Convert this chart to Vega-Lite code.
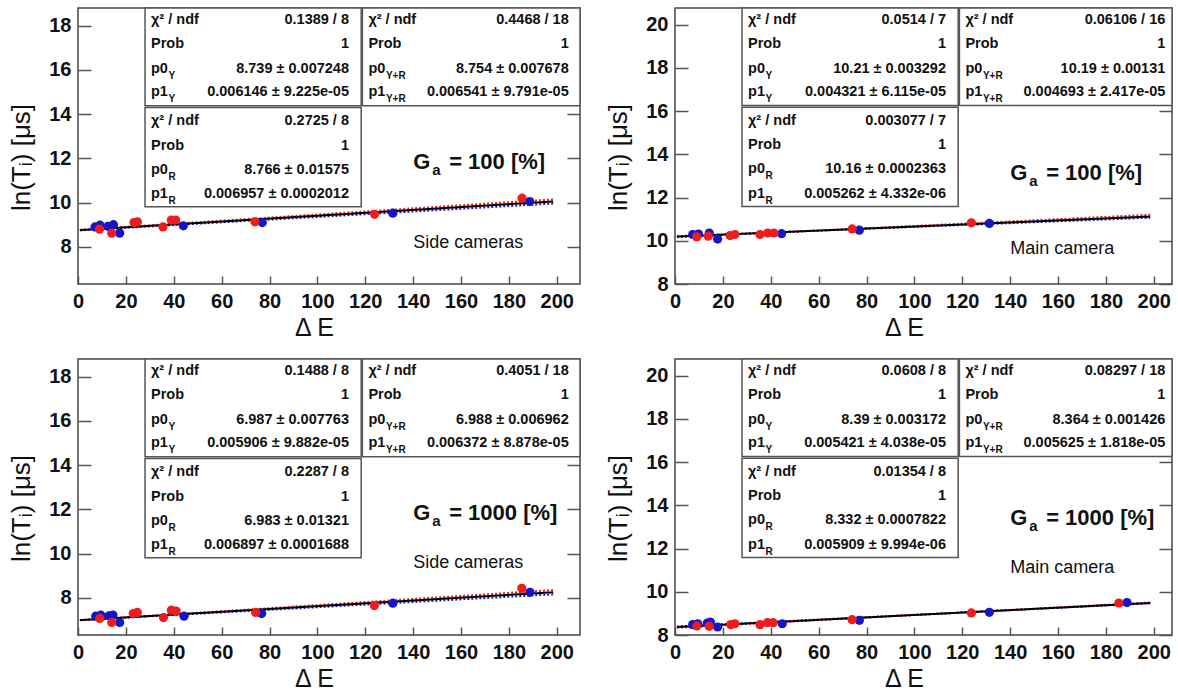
{
"$schema": "https://vega.github.io/schema/vega-lite/v6.json",
"background": "white",
"padding": {"left": 8, "top": 6, "right": 0, "bottom": 0},
"autosize": {"type": "pad"},
"spacing": 16,
"datasets": {
"TL_pts": [
{"cam":"Y","E":7.1,"v":8.90},{"cam":"Y","E":9.2,"v":8.98},{"cam":"Y","E":12.5,"v":8.93},{"cam":"Y","E":14.8,"v":9.00},{"cam":"Y","E":17.4,"v":8.62},{"cam":"Y","E":44.0,"v":8.95},{"cam":"Y","E":77.0,"v":9.10},{"cam":"Y","E":131.5,"v":9.52},{"cam":"Y","E":188.7,"v":10.05},
{"cam":"R","E":9.0,"v":8.80},{"cam":"R","E":14.1,"v":8.62},{"cam":"R","E":23.4,"v":9.10},{"cam":"R","E":24.8,"v":9.13},{"cam":"R","E":35.5,"v":8.90},{"cam":"R","E":39.0,"v":9.21},{"cam":"R","E":40.8,"v":9.21},{"cam":"R","E":73.9,"v":9.13},{"cam":"R","E":123.9,"v":9.47},{"cam":"R","E":185.5,"v":10.20}],
"TR_pts": [
{"cam":"Y","E":7.4,"v":10.29},{"cam":"Y","E":9.8,"v":10.31},{"cam":"Y","E":14.3,"v":10.36},{"cam":"Y","E":17.8,"v":10.08},{"cam":"Y","E":44.5,"v":10.33},{"cam":"Y","E":77.0,"v":10.49},{"cam":"Y","E":131.3,"v":10.80},
{"cam":"R","E":9.1,"v":10.18},{"cam":"R","E":13.9,"v":10.21},{"cam":"R","E":23.0,"v":10.24},{"cam":"R","E":25.0,"v":10.29},{"cam":"R","E":35.5,"v":10.29},{"cam":"R","E":38.7,"v":10.36},{"cam":"R","E":41.3,"v":10.36},{"cam":"R","E":74.0,"v":10.55},{"cam":"R","E":123.8,"v":10.83}],
"BL_pts": [
{"cam":"Y","E":7.4,"v":7.17},{"cam":"Y","E":9.5,"v":7.22},{"cam":"Y","E":13.0,"v":7.19},{"cam":"Y","E":14.6,"v":7.22},{"cam":"Y","E":17.4,"v":6.89},{"cam":"Y","E":44.3,"v":7.17},{"cam":"Y","E":76.7,"v":7.29},{"cam":"Y","E":131.5,"v":7.76},{"cam":"Y","E":188.8,"v":8.25},
{"cam":"R","E":9.1,"v":7.07},{"cam":"R","E":14.1,"v":6.89},{"cam":"R","E":23.1,"v":7.29},{"cam":"R","E":24.8,"v":7.34},{"cam":"R","E":35.7,"v":7.11},{"cam":"R","E":39.0,"v":7.44},{"cam":"R","E":41.0,"v":7.40},{"cam":"R","E":74.2,"v":7.34},{"cam":"R","E":123.8,"v":7.65},{"cam":"R","E":185.4,"v":8.43}],
"BR_pts": [
{"cam":"Y","E":7.4,"v":8.48},{"cam":"Y","E":9.5,"v":8.52},{"cam":"Y","E":13.5,"v":8.55},{"cam":"Y","E":14.8,"v":8.60},{"cam":"Y","E":17.8,"v":8.37},{"cam":"Y","E":44.8,"v":8.52},{"cam":"Y","E":77.0,"v":8.68},{"cam":"Y","E":131.3,"v":9.05},{"cam":"Y","E":188.8,"v":9.50},
{"cam":"R","E":9.1,"v":8.42},{"cam":"R","E":14.3,"v":8.40},{"cam":"R","E":23.3,"v":8.48},{"cam":"R","E":25.0,"v":8.52},{"cam":"R","E":35.5,"v":8.48},{"cam":"R","E":38.6,"v":8.57},{"cam":"R","E":41.0,"v":8.57},{"cam":"R","E":74.0,"v":8.71},{"cam":"R","E":123.8,"v":9.02},{"cam":"R","E":185.4,"v":9.48}],
"TL_fits": [
{"fit":"Y","E":0.8,"v":8.744},{"fit":"Y","E":198.5,"v":9.959},
{"fit":"R","E":0.8,"v":8.772},{"fit":"R","E":198.5,"v":10.147},
{"fit":"YR","E":0.8,"v":8.759},{"fit":"YR","E":198.5,"v":10.052}],
"TR_fits": [
{"fit":"Y","E":0.8,"v":10.213},{"fit":"Y","E":198.5,"v":11.068},
{"fit":"R","E":0.8,"v":10.164},{"fit":"R","E":198.5,"v":11.204},
{"fit":"YR","E":0.8,"v":10.194},{"fit":"YR","E":198.5,"v":11.122}],
"BL_fits": [
{"fit":"Y","E":0.8,"v":6.992},{"fit":"Y","E":198.5,"v":8.159},
{"fit":"R","E":0.8,"v":6.988},{"fit":"R","E":198.5,"v":8.352},
{"fit":"YR","E":0.8,"v":6.993},{"fit":"YR","E":198.5,"v":8.253}],
"BR_fits": [
{"fit":"Y","E":0.8,"v":8.394},{"fit":"Y","E":198.5,"v":9.466},
{"fit":"R","E":0.8,"v":8.337},{"fit":"R","E":198.5,"v":9.505},
{"fit":"YR","E":0.8,"v":8.369},{"fit":"YR","E":198.5,"v":9.481}],
"C1_boxes": [
{"E":28,"E2":118.3,"v":14.38,"v2":18.8},{"E":118.8,"E2":209.7,"v":14.38,"v2":18.8},{"E":28,"E2":118.3,"v":9.81,"v2":14.30}],
"C2_boxes": [
{"E":28,"E2":118.3,"v":16.26,"v2":20.77},{"E":118.8,"E2":207.6,"v":16.26,"v2":20.77},{"E":28,"E2":118.3,"v":11.59,"v2":16.18}],
"TL_stats": [
{"E":30.5,"Er":113.2,"v":18.27,"lab":"χ² / ndf","val":"0.1389 / 8","sub":""},
{"E":30.5,"Er":113.2,"v":17.17,"lab":"Prob","val":"1","sub":""},
{"E":30.5,"Er":113.2,"v":16.04,"lab":"p0","val":"8.739 ± 0.007248","sub":"Y"},
{"E":30.5,"Er":113.2,"v":14.98,"lab":"p1","val":"0.006146 ± 9.225e-05","sub":"Y"},
{"E":121.3,"Er":205,"v":18.27,"lab":"χ² / ndf","val":"0.4468 / 18","sub":""},
{"E":121.3,"Er":205,"v":17.17,"lab":"Prob","val":"1","sub":""},
{"E":121.3,"Er":205,"v":16.04,"lab":"p0","val":"8.754 ± 0.007678","sub":"Y+R"},
{"E":121.3,"Er":205,"v":14.98,"lab":"p1","val":"0.006541 ± 9.791e-05","sub":"Y+R"},
{"E":30.5,"Er":113.2,"v":13.70,"lab":"χ² / ndf","val":"0.2725 / 8","sub":""},
{"E":30.5,"Er":113.2,"v":12.57,"lab":"Prob","val":"1","sub":""},
{"E":30.5,"Er":113.2,"v":11.48,"lab":"p0","val":"8.766 ± 0.01575","sub":"R"},
{"E":30.5,"Er":113.2,"v":10.38,"lab":"p1","val":"0.006957 ± 0.0002012","sub":"R"}],
"BL_stats": [
{"E":30.5,"Er":113.2,"v":18.27,"lab":"χ² / ndf","val":"0.1488 / 8","sub":""},
{"E":30.5,"Er":113.2,"v":17.17,"lab":"Prob","val":"1","sub":""},
{"E":30.5,"Er":113.2,"v":16.04,"lab":"p0","val":"6.987 ± 0.007763","sub":"Y"},
{"E":30.5,"Er":113.2,"v":14.98,"lab":"p1","val":"0.005906 ± 9.882e-05","sub":"Y"},
{"E":121.3,"Er":205,"v":18.27,"lab":"χ² / ndf","val":"0.4051 / 18","sub":""},
{"E":121.3,"Er":205,"v":17.17,"lab":"Prob","val":"1","sub":""},
{"E":121.3,"Er":205,"v":16.04,"lab":"p0","val":"6.988 ± 0.006962","sub":"Y+R"},
{"E":121.3,"Er":205,"v":14.98,"lab":"p1","val":"0.006372 ± 8.878e-05","sub":"Y+R"},
{"E":30.5,"Er":113.2,"v":13.70,"lab":"χ² / ndf","val":"0.2287 / 8","sub":""},
{"E":30.5,"Er":113.2,"v":12.57,"lab":"Prob","val":"1","sub":""},
{"E":30.5,"Er":113.2,"v":11.48,"lab":"p0","val":"6.983 ± 0.01321","sub":"R"},
{"E":30.5,"Er":113.2,"v":10.38,"lab":"p1","val":"0.006897 ± 0.0001688","sub":"R"}],
"TR_stats": [
{"E":30.5,"Er":113.2,"v":20.23,"lab":"χ² / ndf","val":"0.0514 / 7","sub":""},
{"E":30.5,"Er":113.2,"v":19.11,"lab":"Prob","val":"1","sub":""},
{"E":30.5,"Er":113.2,"v":17.95,"lab":"p0","val":"10.21 ± 0.003292","sub":"Y"},
{"E":30.5,"Er":113.2,"v":16.87,"lab":"p1","val":"0.004321 ± 6.115e-05","sub":"Y"},
{"E":121.3,"Er":204.8,"v":20.23,"lab":"χ² / ndf","val":"0.06106 / 16","sub":""},
{"E":121.3,"Er":204.8,"v":19.11,"lab":"Prob","val":"1","sub":""},
{"E":121.3,"Er":204.8,"v":17.95,"lab":"p0","val":"10.19 ± 0.00131","sub":"Y+R"},
{"E":121.3,"Er":204.8,"v":16.87,"lab":"p1","val":"0.004693 ± 2.417e-05","sub":"Y+R"},
{"E":30.5,"Er":113.2,"v":15.56,"lab":"χ² / ndf","val":"0.003077 / 7","sub":""},
{"E":30.5,"Er":113.2,"v":14.41,"lab":"Prob","val":"1","sub":""},
{"E":30.5,"Er":113.2,"v":13.30,"lab":"p0","val":"10.16 ± 0.0002363","sub":"R"},
{"E":30.5,"Er":113.2,"v":12.18,"lab":"p1","val":"0.005262 ± 4.332e-06","sub":"R"}],
"BR_stats": [
{"E":30.5,"Er":113.2,"v":20.23,"lab":"χ² / ndf","val":"0.0608 / 8","sub":""},
{"E":30.5,"Er":113.2,"v":19.11,"lab":"Prob","val":"1","sub":""},
{"E":30.5,"Er":113.2,"v":17.95,"lab":"p0","val":"8.39 ± 0.003172","sub":"Y"},
{"E":30.5,"Er":113.2,"v":16.87,"lab":"p1","val":"0.005421 ± 4.038e-05","sub":"Y"},
{"E":121.3,"Er":204.8,"v":20.23,"lab":"χ² / ndf","val":"0.08297 / 18","sub":""},
{"E":121.3,"Er":204.8,"v":19.11,"lab":"Prob","val":"1","sub":""},
{"E":121.3,"Er":204.8,"v":17.95,"lab":"p0","val":"8.364 ± 0.001426","sub":"Y+R"},
{"E":121.3,"Er":204.8,"v":16.87,"lab":"p1","val":"0.005625 ± 1.818e-05","sub":"Y+R"},
{"E":30.5,"Er":113.2,"v":15.56,"lab":"χ² / ndf","val":"0.01354 / 8","sub":""},
{"E":30.5,"Er":113.2,"v":14.41,"lab":"Prob","val":"1","sub":""},
{"E":30.5,"Er":113.2,"v":13.30,"lab":"p0","val":"8.332 ± 0.0007822","sub":"R"},
{"E":30.5,"Er":113.2,"v":12.18,"lab":"p1","val":"0.005909 ± 9.994e-06","sub":"R"}],
"TL_notes": [{"kind":"G","E":140,"v":11.83,"t":"G"},{"kind":"a","E":140,"v":11.83,"t":"a"},{"kind":"eq","E":140,"v":11.83,"t":"= 100 [%]"},{"kind":"cam","E":140,"v":8.19,"t":"Side cameras"}],
"TR_notes": [{"kind":"G","E":140,"v":13.15,"t":"G"},{"kind":"a","E":140,"v":13.15,"t":"a"},{"kind":"eq","E":140,"v":13.15,"t":"= 100 [%]"},{"kind":"cam","E":140,"v":9.62,"t":"Main camera"}],
"BL_notes": [{"kind":"G","E":140,"v":11.85,"t":"G"},{"kind":"a","E":140,"v":11.85,"t":"a"},{"kind":"eq","E":140,"v":11.85,"t":"= 1000 [%]"},{"kind":"cam","E":140,"v":9.59,"t":"Side cameras"}],
"BR_notes": [{"kind":"G","E":140,"v":13.43,"t":"G"},{"kind":"a","E":140,"v":13.43,"t":"a"},{"kind":"eq","E":140,"v":13.43,"t":"= 1000 [%]"},{"kind":"cam","E":140,"v":11.11,"t":"Main camera"}]
},
"vconcat": [
{"spacing": 23, "hconcat": [
{"width": 502, "height": 276,
 "layer": [
  {"encoding": {
    "x": {"field":"E","type":"quantitative","scale":{"domain":[0,209.7],"nice":false,"zero":false},"axis":{"title":"Δ E","values":[0,20,40,60,80,100,120,140,160,180,200],"titleX":236}},
    "y": {"field":"v","type":"quantitative","scale":{"domain":[6.32,18.8],"nice":false,"zero":false},"axis":{"title":"ln(Tᵢ) [μs]","values":[8,10,12,14,16,18],"titleY":149}}},
   "layer": [
    {"data":{"name":"TL_fits"},"mark":{"type":"line","strokeWidth":2},"encoding":{"color":{"field":"fit","type":"nominal","scale":{"domain":["Y","R","YR"],"range":["#1515c8","#ee1c1c","#000000"]},"legend":null},"strokeDash":{"field":"fit","type":"nominal","scale":{"domain":["Y","R","YR"],"range":[[2,2],[2,2],[1,0]]},"legend":null}}},
    {"data":{"name":"TL_pts"},"mark":{"type":"circle","size":85,"opacity":1},"encoding":{"color":{"field":"cam","type":"nominal","scale":{"domain":["Y","R","YR"],"range":["#1515c8","#ee1c1c","#000000"]},"legend":null}}},
    {"data":{"name":"C1_boxes"},"mark":{"type":"rect","fill":"#ffffff","stroke":"#555555","strokeWidth":1.5},"encoding":{"x2":{"field":"E2"},"y2":{"field":"v2"}}},
    {"data":{"name":"TL_stats"},"mark":{"type":"text","align":"left","baseline":"middle","fontSize":14.5,"fontWeight":"bold"},"encoding":{"text":{"field":"lab"}}},
    {"data":{"name":"TL_stats"},"mark":{"type":"text","align":"right","baseline":"middle","fontSize":14.5,"fontWeight":"bold"},"encoding":{"x":{"field":"Er","type":"quantitative"},"text":{"field":"val"}}},
    {"data":{"name":"TL_stats"},"mark":{"type":"text","align":"left","baseline":"middle","fontSize":10,"fontWeight":"bold","dx":17.5,"dy":7},"encoding":{"text":{"field":"sub"}}},
    {"data":{"name":"TL_notes"},"transform":[{"filter":"datum.kind==='G'"}],"mark":{"type":"text","align":"left","baseline":"middle","fontSize":22,"fontWeight":"bold"},"encoding":{"text":{"field":"t"}}},
    {"data":{"name":"TL_notes"},"transform":[{"filter":"datum.kind==='a'"}],"mark":{"type":"text","align":"left","baseline":"middle","fontSize":15,"fontWeight":"bold","dx":19,"dy":8},"encoding":{"text":{"field":"t"}}},
    {"data":{"name":"TL_notes"},"transform":[{"filter":"datum.kind==='eq'"}],"mark":{"type":"text","align":"left","baseline":"middle","fontSize":22,"fontWeight":"bold","dx":36},"encoding":{"text":{"field":"t"}}},
    {"data":{"name":"TL_notes"},"transform":[{"filter":"datum.kind==='cam'"}],"mark":{"type":"text","align":"left","baseline":"middle","fontSize":18,"fontWeight":"normal"},"encoding":{"text":{"field":"t"}}}
   ]},
  {"data":{"name":"TL_fits"},"mark":{"type":"rule","opacity":0},"encoding":{"y":{"field":"v","type":"quantitative","scale":{"domain":[6.32,18.8],"nice":false,"zero":false},"axis":{"orient":"right","values":[8,10,12,14,16,18],"labels":false,"title":null}}}}
 ],
 "resolve":{"scale":{"y":"independent"}}},
{"width": 497, "height": 276,
 "layer": [
  {"encoding": {
    "x": {"field":"E","type":"quantitative","scale":{"domain":[0,207.6],"nice":false,"zero":false},"axis":{"title":"Δ E","values":[0,20,40,60,80,100,120,140,160,180,200],"titleX":229}},
    "y": {"field":"v","type":"quantitative","scale":{"domain":[8,20.77],"nice":false,"zero":false},"axis":{"title":"ln(Tᵢ) [μs]","values":[8,10,12,14,16,18,20],"titleY":149}}},
   "layer": [
    {"data":{"name":"TR_fits"},"mark":{"type":"line","strokeWidth":2},"encoding":{"color":{"field":"fit","type":"nominal","scale":{"domain":["Y","R","YR"],"range":["#1515c8","#ee1c1c","#000000"]},"legend":null},"strokeDash":{"field":"fit","type":"nominal","scale":{"domain":["Y","R","YR"],"range":[[2,2],[2,2],[1,0]]},"legend":null}}},
    {"data":{"name":"TR_pts"},"mark":{"type":"circle","size":85,"opacity":1},"encoding":{"color":{"field":"cam","type":"nominal","scale":{"domain":["Y","R","YR"],"range":["#1515c8","#ee1c1c","#000000"]},"legend":null}}},
    {"data":{"name":"C2_boxes"},"mark":{"type":"rect","fill":"#ffffff","stroke":"#555555","strokeWidth":1.5},"encoding":{"x2":{"field":"E2"},"y2":{"field":"v2"}}},
    {"data":{"name":"TR_stats"},"mark":{"type":"text","align":"left","baseline":"middle","fontSize":14.5,"fontWeight":"bold"},"encoding":{"text":{"field":"lab"}}},
    {"data":{"name":"TR_stats"},"mark":{"type":"text","align":"right","baseline":"middle","fontSize":14.5,"fontWeight":"bold"},"encoding":{"x":{"field":"Er","type":"quantitative"},"text":{"field":"val"}}},
    {"data":{"name":"TR_stats"},"mark":{"type":"text","align":"left","baseline":"middle","fontSize":10,"fontWeight":"bold","dx":17.5,"dy":7},"encoding":{"text":{"field":"sub"}}},
    {"data":{"name":"TR_notes"},"transform":[{"filter":"datum.kind==='G'"}],"mark":{"type":"text","align":"left","baseline":"middle","fontSize":22,"fontWeight":"bold"},"encoding":{"text":{"field":"t"}}},
    {"data":{"name":"TR_notes"},"transform":[{"filter":"datum.kind==='a'"}],"mark":{"type":"text","align":"left","baseline":"middle","fontSize":15,"fontWeight":"bold","dx":19,"dy":8},"encoding":{"text":{"field":"t"}}},
    {"data":{"name":"TR_notes"},"transform":[{"filter":"datum.kind==='eq'"}],"mark":{"type":"text","align":"left","baseline":"middle","fontSize":22,"fontWeight":"bold","dx":36},"encoding":{"text":{"field":"t"}}},
    {"data":{"name":"TR_notes"},"transform":[{"filter":"datum.kind==='cam'"}],"mark":{"type":"text","align":"left","baseline":"middle","fontSize":18,"fontWeight":"normal"},"encoding":{"text":{"field":"t"}}}
   ]},
  {"data":{"name":"TR_fits"},"mark":{"type":"rule","opacity":0},"encoding":{"y":{"field":"v","type":"quantitative","scale":{"domain":[8,20.77],"nice":false,"zero":false},"axis":{"orient":"right","values":[8,10,12,14,16,18,20],"labels":false,"title":null}}}}
 ],
 "resolve":{"scale":{"y":"independent"}}}
]},
{"spacing": 23, "hconcat": [
{"width": 502, "height": 276,
 "layer": [
  {"encoding": {
    "x": {"field":"E","type":"quantitative","scale":{"domain":[0,209.7],"nice":false,"zero":false},"axis":{"title":"Δ E","values":[0,20,40,60,80,100,120,140,160,180,200],"titleX":236}},
    "y": {"field":"v","type":"quantitative","scale":{"domain":[6.32,18.8],"nice":false,"zero":false},"axis":{"title":"ln(Tᵢ) [μs]","values":[8,10,12,14,16,18],"titleY":149}}},
   "layer": [
    {"data":{"name":"BL_fits"},"mark":{"type":"line","strokeWidth":2},"encoding":{"color":{"field":"fit","type":"nominal","scale":{"domain":["Y","R","YR"],"range":["#1515c8","#ee1c1c","#000000"]},"legend":null},"strokeDash":{"field":"fit","type":"nominal","scale":{"domain":["Y","R","YR"],"range":[[2,2],[2,2],[1,0]]},"legend":null}}},
    {"data":{"name":"BL_pts"},"mark":{"type":"circle","size":85,"opacity":1},"encoding":{"color":{"field":"cam","type":"nominal","scale":{"domain":["Y","R","YR"],"range":["#1515c8","#ee1c1c","#000000"]},"legend":null}}},
    {"data":{"name":"C1_boxes"},"mark":{"type":"rect","fill":"#ffffff","stroke":"#555555","strokeWidth":1.5},"encoding":{"x2":{"field":"E2"},"y2":{"field":"v2"}}},
    {"data":{"name":"BL_stats"},"mark":{"type":"text","align":"left","baseline":"middle","fontSize":14.5,"fontWeight":"bold"},"encoding":{"text":{"field":"lab"}}},
    {"data":{"name":"BL_stats"},"mark":{"type":"text","align":"right","baseline":"middle","fontSize":14.5,"fontWeight":"bold"},"encoding":{"x":{"field":"Er","type":"quantitative"},"text":{"field":"val"}}},
    {"data":{"name":"BL_stats"},"mark":{"type":"text","align":"left","baseline":"middle","fontSize":10,"fontWeight":"bold","dx":17.5,"dy":7},"encoding":{"text":{"field":"sub"}}},
    {"data":{"name":"BL_notes"},"transform":[{"filter":"datum.kind==='G'"}],"mark":{"type":"text","align":"left","baseline":"middle","fontSize":22,"fontWeight":"bold"},"encoding":{"text":{"field":"t"}}},
    {"data":{"name":"BL_notes"},"transform":[{"filter":"datum.kind==='a'"}],"mark":{"type":"text","align":"left","baseline":"middle","fontSize":15,"fontWeight":"bold","dx":19,"dy":8},"encoding":{"text":{"field":"t"}}},
    {"data":{"name":"BL_notes"},"transform":[{"filter":"datum.kind==='eq'"}],"mark":{"type":"text","align":"left","baseline":"middle","fontSize":22,"fontWeight":"bold","dx":36},"encoding":{"text":{"field":"t"}}},
    {"data":{"name":"BL_notes"},"transform":[{"filter":"datum.kind==='cam'"}],"mark":{"type":"text","align":"left","baseline":"middle","fontSize":18,"fontWeight":"normal"},"encoding":{"text":{"field":"t"}}}
   ]},
  {"data":{"name":"BL_fits"},"mark":{"type":"rule","opacity":0},"encoding":{"y":{"field":"v","type":"quantitative","scale":{"domain":[6.32,18.8],"nice":false,"zero":false},"axis":{"orient":"right","values":[8,10,12,14,16,18],"labels":false,"title":null}}}}
 ],
 "resolve":{"scale":{"y":"independent"}}},
{"width": 497, "height": 276,
 "layer": [
  {"encoding": {
    "x": {"field":"E","type":"quantitative","scale":{"domain":[0,207.6],"nice":false,"zero":false},"axis":{"title":"Δ E","values":[0,20,40,60,80,100,120,140,160,180,200],"titleX":229}},
    "y": {"field":"v","type":"quantitative","scale":{"domain":[8,20.77],"nice":false,"zero":false},"axis":{"title":"ln(Tᵢ) [μs]","values":[8,10,12,14,16,18,20],"titleY":149}}},
   "layer": [
    {"data":{"name":"BR_fits"},"mark":{"type":"line","strokeWidth":2},"encoding":{"color":{"field":"fit","type":"nominal","scale":{"domain":["Y","R","YR"],"range":["#1515c8","#ee1c1c","#000000"]},"legend":null},"strokeDash":{"field":"fit","type":"nominal","scale":{"domain":["Y","R","YR"],"range":[[2,2],[2,2],[1,0]]},"legend":null}}},
    {"data":{"name":"BR_pts"},"mark":{"type":"circle","size":85,"opacity":1},"encoding":{"color":{"field":"cam","type":"nominal","scale":{"domain":["Y","R","YR"],"range":["#1515c8","#ee1c1c","#000000"]},"legend":null}}},
    {"data":{"name":"C2_boxes"},"mark":{"type":"rect","fill":"#ffffff","stroke":"#555555","strokeWidth":1.5},"encoding":{"x2":{"field":"E2"},"y2":{"field":"v2"}}},
    {"data":{"name":"BR_stats"},"mark":{"type":"text","align":"left","baseline":"middle","fontSize":14.5,"fontWeight":"bold"},"encoding":{"text":{"field":"lab"}}},
    {"data":{"name":"BR_stats"},"mark":{"type":"text","align":"right","baseline":"middle","fontSize":14.5,"fontWeight":"bold"},"encoding":{"x":{"field":"Er","type":"quantitative"},"text":{"field":"val"}}},
    {"data":{"name":"BR_stats"},"mark":{"type":"text","align":"left","baseline":"middle","fontSize":10,"fontWeight":"bold","dx":17.5,"dy":7},"encoding":{"text":{"field":"sub"}}},
    {"data":{"name":"BR_notes"},"transform":[{"filter":"datum.kind==='G'"}],"mark":{"type":"text","align":"left","baseline":"middle","fontSize":22,"fontWeight":"bold"},"encoding":{"text":{"field":"t"}}},
    {"data":{"name":"BR_notes"},"transform":[{"filter":"datum.kind==='a'"}],"mark":{"type":"text","align":"left","baseline":"middle","fontSize":15,"fontWeight":"bold","dx":19,"dy":8},"encoding":{"text":{"field":"t"}}},
    {"data":{"name":"BR_notes"},"transform":[{"filter":"datum.kind==='eq'"}],"mark":{"type":"text","align":"left","baseline":"middle","fontSize":22,"fontWeight":"bold","dx":36},"encoding":{"text":{"field":"t"}}},
    {"data":{"name":"BR_notes"},"transform":[{"filter":"datum.kind==='cam'"}],"mark":{"type":"text","align":"left","baseline":"middle","fontSize":18,"fontWeight":"normal"},"encoding":{"text":{"field":"t"}}}
   ]},
  {"data":{"name":"BR_fits"},"mark":{"type":"rule","opacity":0},"encoding":{"y":{"field":"v","type":"quantitative","scale":{"domain":[8,20.77],"nice":false,"zero":false},"axis":{"orient":"right","values":[8,10,12,14,16,18,20],"labels":false,"title":null}}}}
 ],
 "resolve":{"scale":{"y":"independent"}}}
]}
],
"config": {
 "font": "Liberation Sans",
 "view": {"stroke": "#444444", "strokeWidth": 1.5},
 "axis": {"grid": false, "domain": false, "labelFont": "Liberation Sans", "labelFontSize": 20, "labelFontWeight": "bold", "labelColor": "#111111", "titleFont": "Liberation Sans", "titleFontWeight": "normal", "titleColor": "#111111", "tickColor": "#555555", "tickWidth": 1.5, "labelOverlap": false},
 "axisX": {"tickSize": -8, "labelPadding": 15, "labelFlush": false, "titleFontSize": 25, "titlePadding": 4},
 "axisY": {"tickSize": -13, "labelPadding": 20, "titleFontSize": 26, "titlePadding": 14},
 "text": {"fill": "#111111"}
}
}
